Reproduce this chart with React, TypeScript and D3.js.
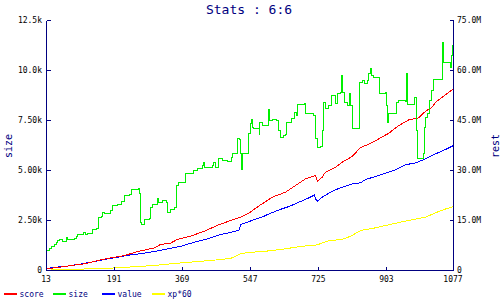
import React from "react";
import * as d3 from "d3";

const W = 500;
const H = 300;

const titleText = "Stats : 6:6";
const xTicks = [13, 191, 369, 547, 725, 903, 1077];
const leftTickValues = [0, 2500, 5000, 7500, 10000, 12500];
const leftTickLabels = ["0", "2.50k", "5.00k", "7.50k", "10.0k", "12.5k"];
const rightTickValues = [0, 15, 30, 45, 60, 75];
const rightTickLabels = ["0", "15.0M", "30.0M", "45.0M", "60.0M", "75.0M"];

const legendNames = ["score", "size", "value", "xp*60"];
const legendColors = ["#ff0000", "#00f000", "#0000ff", "#ffff00"];

// size (left axis), [x, value]
const sizeSeries: [number, number][] = [
  [13, 1000], [21, 1100], [26, 1200], [34, 1300], [38, 1400], [43, 1500], [47, 1550], [56, 1450],
  [65, 1650], [69, 1550], [78, 1550], [86, 1600], [91, 1700], [95, 1800], [110, 1900], [114, 1800],
  [121, 1850], [130, 1870], [134, 2050], [143, 2100], [149, 2200], [150, 2650], [156, 2700], [160, 2900],
  [165, 2850], [173, 2870], [180, 3000], [186, 3250], [199, 3300], [208, 3450], [217, 3750], [230, 3800],
  [234, 4050], [254, 4100], [256, 3850], [259, 2400], [262, 2300], [269, 2550], [282, 2600], [285, 3150],
  [291, 3300], [302, 3600], [307, 3400], [315, 3500], [327, 3400], [330, 2900], [337, 3050], [348, 3150],
  [353, 4250], [359, 4400], [376, 4850], [385, 4870], [398, 5000], [407, 5100], [420, 5250], [424, 5400],
  [427, 5150], [446, 5250], [450, 5400], [455, 5150], [463, 5600], [472, 5500], [485, 5450], [496, 5650],
  [498, 5850], [512, 6600], [518, 6550], [520, 5850], [524, 5050], [525, 5850], [538, 5870], [542, 6850],
  [546, 7350], [548, 7550], [551, 7150], [555, 7100], [569, 6800], [571, 7400], [577, 7250], [594, 8050],
  [596, 7500], [603, 7550], [614, 7500], [619, 7000], [625, 6650], [633, 6750], [638, 6800], [640, 7400],
  [654, 7600], [662, 7900], [666, 7750], [670, 8300], [688, 8350], [690, 7850], [712, 7750], [716, 6600],
  [721, 6150], [729, 6200], [734, 7000], [736, 8400], [742, 8100], [751, 8250], [758, 8750], [769, 8350],
  [773, 8850], [782, 8900], [784, 9750], [788, 8900], [793, 8400], [799, 8250], [805, 8850], [808, 8250],
  [812, 7100], [831, 9400], [838, 9500], [845, 9350], [851, 9500], [856, 9850], [860, 10100], [863, 9750],
  [869, 9650], [884, 8850], [899, 8900], [902, 8250], [905, 7400], [908, 7850], [927, 8400], [932, 8500],
  [952, 8450], [953, 9850], [956, 8300], [976, 8650], [980, 7000], [982, 5600], [999, 5850], [1002, 7150],
  [1004, 7650], [1008, 7850], [1014, 8500], [1020, 9000], [1026, 9550], [1048, 9550], [1049, 11400],
  [1052, 10400], [1069, 10150], [1072, 10750], [1075, 11250], [1077, 10750],
];

// right axis series, values in millions
const scoreSeries: [number, number][] = [
  [13, 0.5], [60, 1.2], [78, 1.5], [112, 2.0], [147, 3.0], [182, 3.8], [217, 4.5], [252, 5.7],
  [295, 6.8], [311, 7.8], [337, 8.2], [355, 9.3], [389, 10.3], [424, 11.7], [459, 13.5], [494, 15.0],
  [520, 16.0], [546, 17.5], [572, 19.7], [577, 20.0], [603, 22.0], [638, 23.5], [664, 25.5], [690, 27.5],
  [716, 28.5], [721, 26.8], [734, 28.0], [742, 29.5], [769, 31.0], [786, 32.5], [812, 34.2], [834, 36.9],
  [856, 37.9], [882, 39.5], [908, 41.2], [934, 43.5], [960, 45.2], [986, 45.8], [1004, 47.8], [1021, 49.0],
  [1030, 50.5], [1048, 52.0], [1065, 53.5], [1077, 54.5],
];

const valueSeries: [number, number][] = [
  [13, 0.5], [29, 0.9], [60, 1.2], [95, 1.8], [130, 2.5], [165, 3.3], [199, 4.0], [234, 4.7],
  [269, 5.2], [295, 5.7], [330, 6.5], [365, 7.3], [400, 8.5], [434, 9.5], [469, 10.8], [504, 11.7],
  [517, 12.2], [521, 13.8], [539, 14.5], [556, 15.3], [582, 16.3], [595, 17.0], [621, 18.2], [647, 19.2],
  [673, 20.5], [699, 21.8], [714, 22.7], [716, 21.5], [721, 20.8], [734, 22.0], [760, 23.8], [786, 25.0],
  [812, 26.0], [834, 26.3], [847, 27.3], [873, 28.2], [899, 29.2], [925, 30.2], [951, 31.7], [978, 32.3],
  [1004, 33.5], [1030, 35.0], [1056, 36.3], [1077, 37.5],
];

const xpSeries: [number, number][] = [
  [13, 0.1], [60, 0.3], [130, 0.5], [199, 0.8], [252, 1.2], [295, 1.5], [337, 2.0], [389, 2.5],
  [442, 3.0], [494, 3.6], [520, 5.0], [546, 5.5], [572, 5.6], [625, 6.3], [677, 7.2], [721, 7.7],
  [747, 8.8], [791, 9.5], [812, 10.5], [834, 12.0], [873, 12.8], [899, 13.5], [951, 14.8], [1004, 16.0],
  [1030, 17.3], [1052, 18.3], [1077, 19.2],
];

const NAVY = "#000080";
const MONO = "'DejaVu Sans Mono', monospace";

export default function App() {
  const x = d3.scaleLinear().domain([13, 1077]).range([46, 453]);
  const yL = d3.scaleLinear().domain([0, 12500]).range([270, 20]);
  const yR = d3.scaleLinear().domain([0, 75]).range([270, 20]);

  const px = (v: number) => Math.round(x(v)) + 0.5;

  const stepLeft = d3
    .line<[number, number]>()
    .x((d) => px(d[0]))
    .y((d) => Math.round(yL(d[1])) + 0.5)
    .curve(d3.curveStepAfter);

  const linRight = d3
    .line<[number, number]>()
    .x((d) => x(d[0]) + 0.5)
    .y((d) => yR(d[1]) + 0.5);

  const left = 46.5;
  const right = 453.5;
  const bottom = 270.5;
  const top = 20.5;

  return (
    <svg
      width={W}
      height={H}
      style={{ position: "absolute", left: 0, top: 0, background: "#fff" }}
      fontFamily={MONO}
    >
      <rect x={0} y={0} width={W} height={H} fill="#fff" />
      <text x={249} y={13.5} textAnchor="middle" fontSize={13} fill={NAVY}>
        {titleText}
      </text>

      {/* series */}
      <g fill="none" strokeWidth={1} shapeRendering="crispEdges">
        <path d={linRight(xpSeries) || ""} stroke={legendColors[3]} />
        <path d={linRight(valueSeries) || ""} stroke={legendColors[2]} />
        <path d={linRight(scoreSeries) || ""} stroke={legendColors[0]} />
        <path d={stepLeft(sizeSeries) || ""} stroke={legendColors[1]} />
      </g>

      {/* axes */}
      <g stroke={NAVY} strokeWidth={1} shapeRendering="crispEdges">
        <line x1={left} y1={top} x2={left} y2={bottom} />
        <line x1={right} y1={top} x2={right} y2={bottom} />
        <line x1={left} y1={bottom} x2={right} y2={bottom} />
        {leftTickValues.map((v) => (
          <line key={"lt" + v} x1={left} x2={left + 4} y1={Math.round(yL(v)) + 0.5} y2={Math.round(yL(v)) + 0.5} />
        ))}
        {rightTickValues.map((v) => (
          <line key={"rt" + v} x1={right - 4} x2={right} y1={Math.round(yR(v)) + 0.5} y2={Math.round(yR(v)) + 0.5} />
        ))}
        {xTicks.map((v) => (
          <line key={"xt" + v} x1={px(v)} x2={px(v)} y1={bottom - 4} y2={bottom} />
        ))}
      </g>

      <g fontSize={8} fill="#000">
        {leftTickValues.map((v, i) => (
          <text key={"ll" + v} x={42} y={yL(v) + 3} textAnchor="end">
            {leftTickLabels[i]}
          </text>
        ))}
        {rightTickValues.map((v, i) => (
          <text key={"rl" + v} x={457} y={yR(v) + 3} textAnchor="start">
            {rightTickLabels[i]}
          </text>
        ))}
        {xTicks.map((v) => (
          <text key={"xl" + v} x={x(v)} y={282} textAnchor="middle">
            {String(v)}
          </text>
        ))}
      </g>

      <text transform="translate(11.5,146) rotate(-90)" textAnchor="middle" fontSize={10} fill={NAVY}>
        size
      </text>
      <text transform="translate(498.5,146) rotate(-90)" textAnchor="middle" fontSize={10} fill={NAVY}>
        rest
      </text>

      {/* legend */}
      {legendNames.map((name, i) => {
        const starts = [4, 53, 102, 152];
        const sx = starts[i];
        return (
          <g key={name}>
            <line x1={sx} x2={sx + 13} y1={294} y2={294} stroke={legendColors[i]} strokeWidth={2} />
            <text x={sx + 15.5} y={297} fontSize={8} fill={NAVY}>
              {name}
            </text>
          </g>
        );
      })}
    </svg>
  );
}
